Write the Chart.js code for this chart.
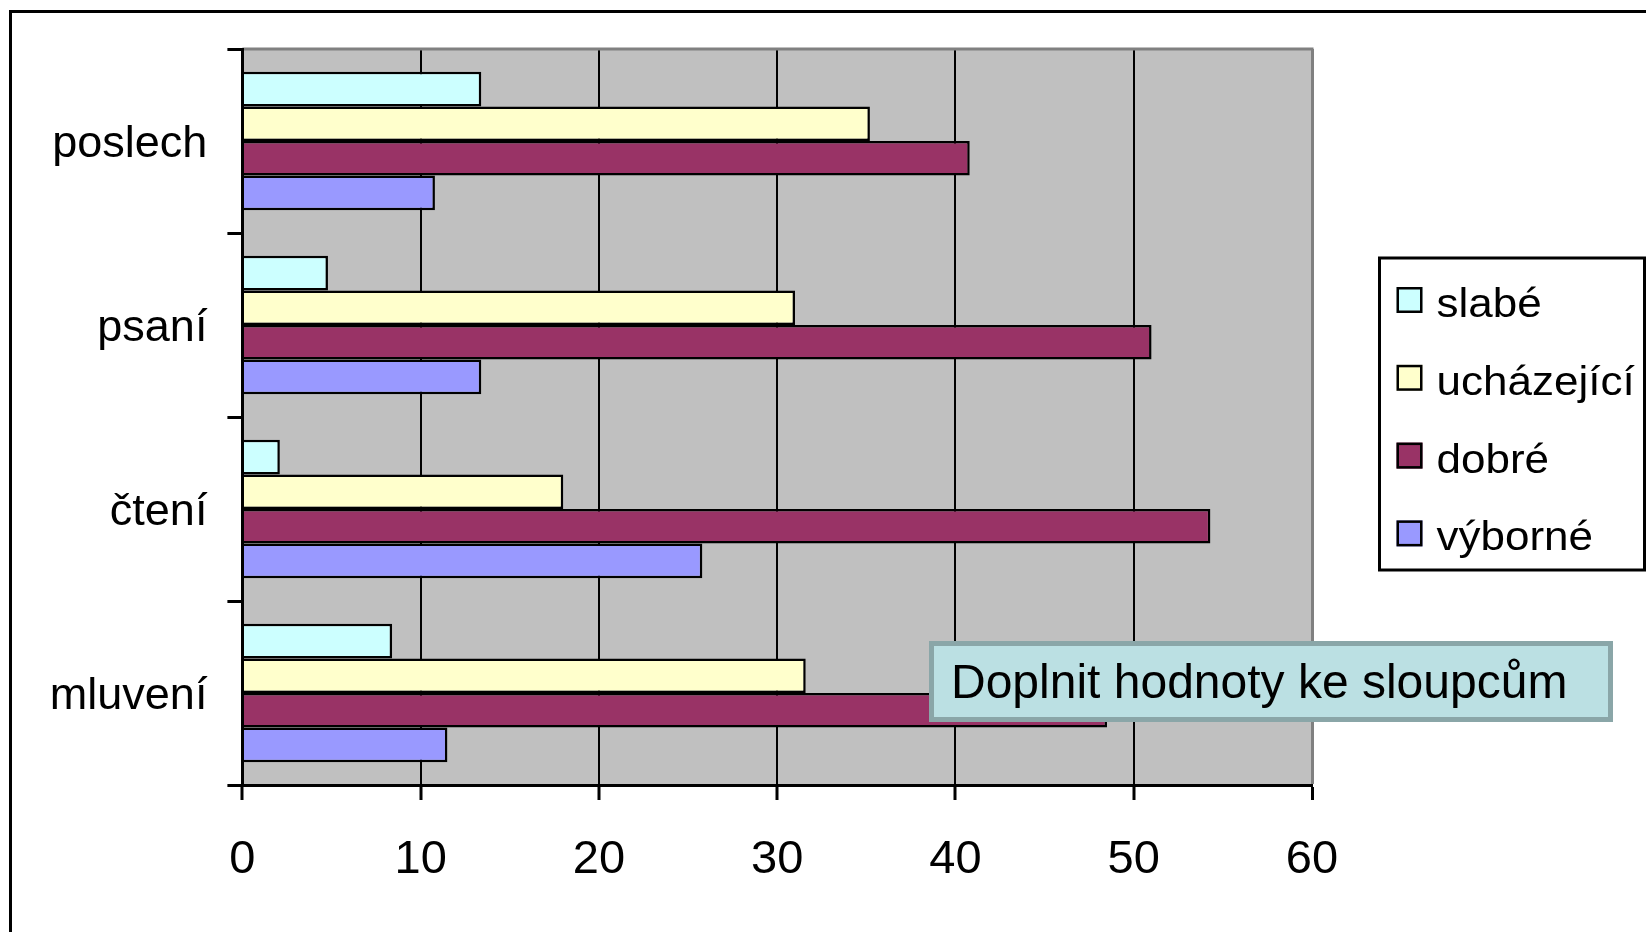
<!DOCTYPE html>
<html>
<head>
<meta charset="utf-8">
<script src="https://cdn.jsdelivr.net/npm/chart.js@4.4.1/dist/chart.umd.min.js"></script>
<style>
  html, body { margin: 0; padding: 0; background: #fff; overflow: hidden; }
  #wrap { position: absolute; left: 0; top: 0; width: 1646px; height: 932px; }
  #frame { position: absolute; left: 9px; top: 10px; width: 2000px; height: 2000px; border: 3px solid #000; pointer-events: none; }
</style>
</head>
<body>
<div id="wrap"><canvas id="myBarChart"></canvas></div>
<div id="frame"></div>
<script>
const categories = ['poslech', 'psaní', 'čtení', 'mluvení'];
const seriesNames = ['slabé', 'ucházející', 'dobré', 'výborné'];
const slabe = [13.4, 4.8, 2.1, 8.4];
const uchazejici = [35.2, 31.0, 18.0, 31.6];
const dobre = [40.8, 51.0, 54.3, 48.5];
const vyborne = [10.8, 13.4, 25.8, 11.5];
const xTicks = [0, 10, 20, 30, 40, 50, 60];
const noteText = 'Doplnit hodnoty ke sloupcům';

const FONT = '"Liberation Sans", Arial, sans-serif';

// grey plot area + grey top edge
const plotFrame = {
  id: 'plotFrame',
  beforeDraw(chart) {
    const { ctx, chartArea: a } = chart;
    ctx.save();
    ctx.fillStyle = '#c0c0c0';
    ctx.fillRect(a.left, a.top, a.right - a.left, a.bottom - a.top);
    ctx.restore();
  },
  beforeDatasetsDraw(chart) {
    const { ctx, chartArea: a } = chart;
    ctx.save();
    ctx.strokeStyle = '#808080';
    ctx.lineWidth = 3;
    ctx.beginPath();
    ctx.moveTo(a.left, a.top);
    ctx.lineTo(a.right + 1.5, a.top);
    ctx.stroke();
    ctx.restore();
  }
};

// framed legend to the right of the plot, built from the datasets
const boxLegend = {
  id: 'boxLegend',
  afterDraw(chart) {
    const { ctx, chartArea: a } = chart;
    const sets = chart.data.datasets;
    const w = 265, h = 312;
    const left = a.right + 67.5;
    const top = (a.top + a.bottom) / 2 - 3 - h / 2;
    ctx.save();
    ctx.fillStyle = '#fff';
    ctx.fillRect(left, top, w, h);
    ctx.strokeStyle = '#000';
    ctx.lineWidth = 3;
    ctx.strokeRect(left, top, w, h);
    ctx.font = '40px ' + FONT;
    ctx.textBaseline = 'alphabetic';
    sets.forEach((ds, i) => {
      const sy = top + 29 + i * 77.8;
      const sx = left + 17;
      ctx.fillStyle = ds.backgroundColor;
      ctx.fillRect(sx, sy, 26, 26);
      ctx.lineWidth = 2.5;
      ctx.strokeStyle = '#000';
      ctx.strokeRect(sx + 1.25, sy + 1.25, 23.5, 23.5);
      ctx.fillStyle = '#000';
      ctx.save();
      ctx.translate(left + 57, sy + 30);
      ctx.scale(1.1, 1);
      ctx.fillText(ds.label, 0, 0);
      ctx.restore();
    });
    ctx.restore();
  }
};

// note box laid over the lower right part of the plot
const noteBox = {
  id: 'noteBox',
  afterDraw(chart) {
    const { ctx } = chart;
    const x = 929, y = 641, w = 684, h = 81;
    ctx.save();
    ctx.fillStyle = '#bbe0e3';
    ctx.fillRect(x, y, w, h);
    ctx.strokeStyle = '#8aa6a8';
    ctx.lineWidth = 5;
    ctx.strokeRect(x + 2.5, y + 2.5, w - 5, h - 5);
    ctx.fillStyle = '#000';
    ctx.font = '48px ' + FONT;
    ctx.textBaseline = 'alphabetic';
    ctx.fillText(noteText, x + 22, y + 57);
    ctx.restore();
  }
};

const colors = ['#ccffff', '#ffffcc', '#993366', '#9999ff'];
const values = [slabe, uchazejici, dobre, vyborne];

const data = {
  labels: categories,
  datasets: seriesNames.map((name, i) => ({
    label: name,
    data: values[i],
    backgroundColor: colors[i],
    borderColor: '#000',
    borderWidth: 2.5,
    categoryPercentage: 0.752,
    barPercentage: 1.0
  }))
};

const config = {
  type: 'bar',
  data: data,
  options: {
    indexAxis: 'y',
    responsive: true,
    maintainAspectRatio: false,
    animation: false,
    events: [],
    layout: { padding: { left: 0, top: 49, right: 334, bottom: 47 } },
    plugins: {
      legend: { display: false },
      tooltip: { enabled: false }
    },
    scales: {
      x: {
        min: 0,
        max: 60,
        afterBuildTicks: (s) => { s.ticks = xTicks.map(v => ({ value: v })); },
        ticks: { font: { size: 47 }, color: '#000', padding: 32, maxRotation: 0 },
        grid: {
          color: (c) => (c.tick && c.tick.value === 60 ? '#808080' : '#000'),
          lineWidth: (c) => (c.tick && c.tick.value === 60 ? 3 : 2),
          tickColor: '#000',
          tickWidth: 3,
          tickLength: 15
        },
        border: { display: true, color: '#000', width: 3, z: 1 },
        afterFit: (s) => { s.height = 100; }
      },
      y: {
        ticks: { font: { size: 45 }, color: '#000', padding: 20, labelOffset: 4 },
        grid: {
          drawOnChartArea: false,
          offset: true,
          tickColor: '#000',
          tickWidth: 3,
          tickLength: 15
        },
        border: { display: true, color: '#000', width: 3, z: 1 },
        afterFit: (s) => { s.width = 242.4; }
      }
    }
  },
  plugins: [plotFrame, boxLegend, noteBox]
};

Chart.defaults.font.family = FONT;
Chart.defaults.color = '#000';

const ctx = document.getElementById('myBarChart');
new Chart(ctx, config);
</script>
</body>
</html>
